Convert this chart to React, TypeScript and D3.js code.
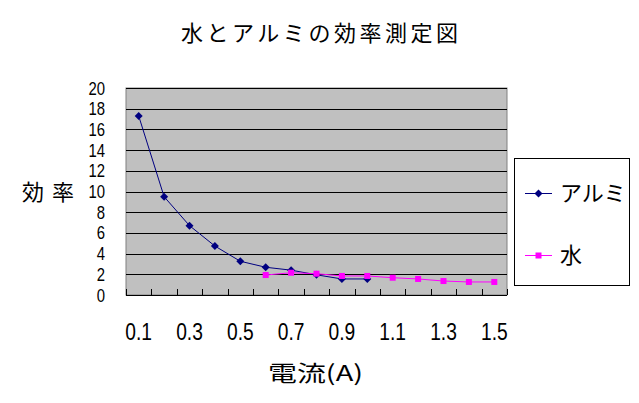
import React, { useEffect, useRef } from 'react';
import * as d3 from 'd3';

// Category axis (current in A)
const categories = ['0.1', '0.2', '0.3', '0.4', '0.5', '0.6', '0.7', '0.8', '0.9', '1.0', '1.1', '1.2', '1.3', '1.4', '1.5'];
const tickLabels = ['0.1', '0.3', '0.5', '0.7', '0.9', '1.1', '1.3', '1.5'];
const yTicks = [0, 2, 4, 6, 8, 10, 12, 14, 16, 18, 20];

// Aluminium: 0.1 .. 1.0
const alumCats = ['0.1', '0.2', '0.3', '0.4', '0.5', '0.6', '0.7', '0.8', '0.9', '1.0'];
const alumValues = [17.3, 9.5, 6.7, 4.73, 3.26, 2.68, 2.4, 1.95, 1.55, 1.55];

// Water: 0.6 .. 1.5
const waterCats = ['0.6', '0.7', '0.8', '0.9', '1.0', '1.1', '1.2', '1.3', '1.4', '1.5'];
const waterValues = [1.93, 2.15, 2.06, 1.84, 1.84, 1.67, 1.55, 1.35, 1.26, 1.26];

const W = 639;
const H = 403;
const plot = { left: 126, right: 507, top: 88, bottom: 295 };

const NAVY = '#000080';
const MAGENTA = '#FF00FF';
const JP = '"Noto Sans CJK JP", "Noto Sans", sans-serif';
const NUM = '"Liberation Sans", Arial, sans-serif';

function diamond(x: number, y: number, r: number): string {
  return `M${x},${y - r}L${x + r},${y}L${x},${y + r}L${x - r},${y}Z`;
}

const App: React.FC = () => {
  const svgRef = useRef<SVGSVGElement>(null);

  useEffect(() => {
    if (!svgRef.current) return;
    const svg = d3.select(svgRef.current);
    svg.selectAll('*').remove();

    const x = d3.scaleBand<string>().domain(categories).range([plot.left, plot.right]).padding(0);
    const y = d3.scaleLinear().domain([0, 20]).range([plot.bottom, plot.top]);
    const cx = (c: string) => (x(c) || 0) + x.bandwidth() / 2;

    svg.append('rect').attr('width', W).attr('height', H).attr('fill', '#fff');

    // title
    svg.append('text')
      .attr('x', 181).attr('y', 41)
      .attr('textLength', 277).attr('lengthAdjust', 'spacing')
      .style('font-family', JP).style('font-size', '22px')
      .text('水とアルミの効率測定図');

    // plot area
    svg.append('rect')
      .attr('x', plot.left).attr('y', plot.top)
      .attr('width', plot.right - plot.left).attr('height', plot.bottom - plot.top)
      .attr('fill', '#C0C0C0').attr('stroke', '#808080').attr('stroke-width', 1);

    // gridlines
    svg.append('g').selectAll('line')
      .data(yTicks.filter(d => d > 0))
      .join('line')
      .attr('x1', plot.left).attr('x2', plot.right)
      .attr('y1', d => Math.round(y(d)) + 0.5).attr('y2', d => Math.round(y(d)) + 0.5)
      .attr('stroke', '#000').attr('stroke-width', 1);

    // x axis line + inner ticks between categories
    svg.append('line')
      .attr('x1', plot.left).attr('x2', plot.right)
      .attr('y1', plot.bottom + 0.5).attr('y2', plot.bottom + 0.5)
      .attr('stroke', '#000');
    const bounds = categories.map(c => x(c) || 0).concat([plot.right]);
    svg.append('g').selectAll('line')
      .data(bounds)
      .join('line')
      .attr('x1', d => Math.round(d) + 0.5).attr('x2', d => Math.round(d) + 0.5)
      .attr('y1', plot.bottom - 6).attr('y2', plot.bottom)
      .attr('stroke', '#000');

    // y tick labels (narrow digits, tightly stacked like the original)
    svg.append('g').selectAll('text')
      .data(yTicks)
      .join('text')
      .attr('transform', d => `translate(105,${y(d) + 6.5}) scale(0.85,1)`)
      .attr('text-anchor', 'end')
      .style('font-family', NUM).style('font-size', '17.5px')
      .text(d => String(d));

    // x tick labels
    svg.append('g').selectAll('text')
      .data(tickLabels)
      .join('text')
      .attr('transform', d => `translate(${cx(d)},${340}) scale(0.8,1)`)
      .attr('text-anchor', 'middle')
      .style('font-family', NUM).style('font-size', '24px')
      .text(d => d);

    // axis titles
    svg.append('text')
      .attr('x', 22).attr('y', 200)
      .attr('textLength', 52).attr('lengthAdjust', 'spacing')
      .style('font-family', JP).style('font-size', '22px')
      .text('効率');
    svg.append('text')
      .attr('x', 268).attr('y', 381)
      .attr('textLength', 95).attr('lengthAdjust', 'spacingAndGlyphs')
      .style('font-family', JP).style('font-size', '22px')
      .text('電流(A)');

    const line = d3.line<[string, number]>().x(d => cx(d[0])).y(d => y(d[1]));
    const alum: [string, number][] = alumCats.map((c, i) => [c, alumValues[i]]);
    const water: [string, number][] = waterCats.map((c, i) => [c, waterValues[i]]);

    svg.append('path').attr('d', line(alum)).attr('fill', 'none').attr('stroke', NAVY).attr('stroke-width', 1);
    svg.append('g').selectAll('path')
      .data(alum)
      .join('path')
      .attr('d', d => diamond(cx(d[0]), y(d[1]), 4))
      .attr('fill', NAVY);

    svg.append('path').attr('d', line(water)).attr('fill', 'none').attr('stroke', MAGENTA).attr('stroke-width', 1);
    svg.append('g').selectAll('rect')
      .data(water)
      .join('rect')
      .attr('x', d => cx(d[0]) - 3).attr('y', d => y(d[1]) - 3)
      .attr('width', 6).attr('height', 6)
      .attr('fill', MAGENTA);

    // legend
    const lg = svg.append('g');
    lg.append('rect')
      .attr('x', 514.5).attr('y', 158.5).attr('width', 115).attr('height', 127)
      .attr('fill', '#fff').attr('stroke', '#000');
    const entries = [
      { name: 'アルミ', color: NAVY, y: 193, kind: 'diamond' },
      { name: '水', color: MAGENTA, y: 255, kind: 'square' },
    ];
    entries.forEach(e => {
      lg.append('line').attr('x1', 525).attr('x2', 552).attr('y1', e.y + 0.5).attr('y2', e.y + 0.5)
        .attr('stroke', e.color);
      if (e.kind === 'diamond') {
        lg.append('path').attr('d', diamond(538.5, e.y + 0.5, 4)).attr('fill', e.color);
      } else {
        lg.append('rect').attr('x', 535.5).attr('y', e.y - 2.5).attr('width', 6).attr('height', 6).attr('fill', e.color);
      }
      lg.append('text')
        .attr('x', 560).attr('y', e.y + 8)
        .style('font-family', JP).style('font-size', '22px')
        .text(e.name);
    });
  }, []);

  return (
    <svg
      ref={svgRef}
      width={W}
      height={H}
      style={{ position: 'absolute', left: 0, top: 0, display: 'block' }}
    />
  );
};

export default App;
